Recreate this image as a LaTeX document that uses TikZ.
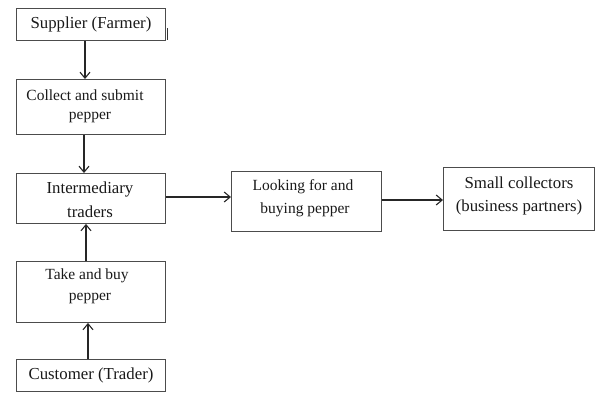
\documentclass[tikz,border=0pt]{standalone}
\usepackage{fontspec}
\setmainfont{Liberation Serif}
\usetikzlibrary{arrows.meta}
\begin{document}
\begin{tikzpicture}[x=1pt,y=-1pt,
  box/.style={draw=black!70,line width=0.9pt,inner sep=0pt,anchor=north west},
  big/.style={font=\fontsize{16.8}{20}\selectfont,inner sep=0pt,text=black!90},
  small/.style={font=\fontsize{15.5}{19}\selectfont,inner sep=0pt,text=black!90},
  flow/.style={draw=black!85,line width=1.2pt,-{Straight Barb[length=6pt,width=10pt,line width=1.1pt]}}]
\useasboundingbox (0,0) rectangle (597,392);
% boxes
\node[box,minimum width=149pt,minimum height=32pt] (sup) at (16,8) {};
\node[box,minimum width=149pt,minimum height=55pt] (col) at (16,79) {};
\node[box,minimum width=149pt,minimum height=50pt] (int) at (16,173) {};
\node[box,minimum width=149pt,minimum height=61pt] (take) at (16,261) {};
\node[box,minimum width=149pt,minimum height=32pt] (cus) at (16,359) {};
\node[box,minimum width=150pt,minimum height=60pt] (look) at (231,171) {};
\node[box,minimum width=151pt,minimum height=63pt] (smc) at (443,167) {};
% texts
\node[big] (t1) at (91,24) {Supplier (Farmer)};
\node[small] (t2a) at (85,95) {Collect and submit};
\node[small] (t2b) at (90,117) {pepper};
\node[big] (t3a) at (90,189) {Intermediary};
\node[big] (t3b) at (90,212) {traders};
\node[small] (t4a) at (87,276) {Take and buy};
\node[small] (t4b) at (90,298) {pepper};
\node[big] (t5) at (91,375) {Customer (Trader)};
\node[small] (t6a) at (303,187) {Looking for and};
\node[small] (t6b) at (305,210) {buying pepper};
\node[big] (t7a) at (519,183) {Small collectors};
\node[big] (t7b) at (519,207) {(business partners)};
% stray tick
\coordinate (tickA) at (167,28);
\coordinate (tickB) at (167,40);
\draw[black!80,line width=0.8pt] (tickA) -- (tickB);
% connectors
\draw[flow] (sup.south -| 85,0) -- (col.north -| 85,0);
\draw[flow] (col.south -| 84,0) -- (int.north -| 84,0);
\draw[flow] (take.north -| 86,0) -- (int.south -| 86,0);
\draw[flow] (cus.north -| 88,0) -- (take.south -| 88,0);
\draw[flow] (int.east |- 0,197) -- (look.west |- 0,197);
\draw[flow] (look.east |- 0,200) -- (smc.west |- 0,200);
\end{tikzpicture}
\end{document}
